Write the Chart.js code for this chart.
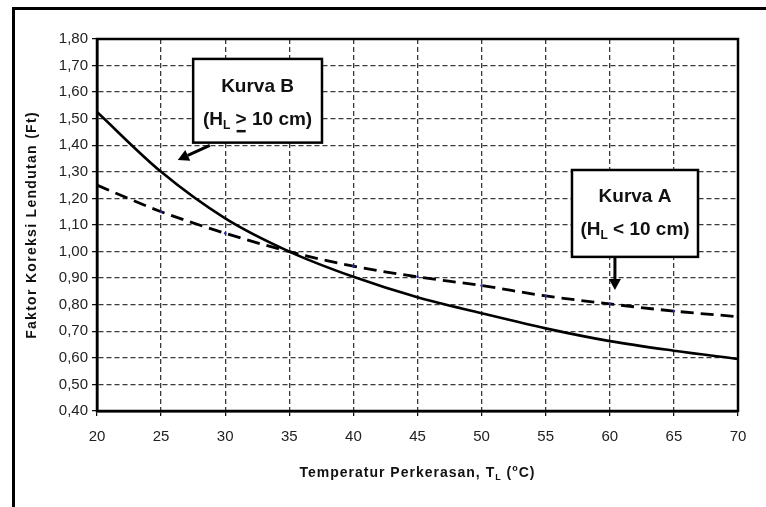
<!DOCTYPE html>
<html>
<head>
<meta charset="utf-8">
<script src="https://cdn.jsdelivr.net/npm/chart.js@4"></script>
<style>
  html, body { margin: 0; padding: 0; background: #fff; overflow: hidden; }
  #wrap { position: relative; width: 766px; height: 507px; }
  #frame { position: absolute; left: 12px; top: 7px; width: 800px; height: 560px; border: 3px solid #000; box-sizing: border-box; pointer-events: none; }
  canvas { position: absolute; left: 0; top: 0; }
</style>
</head>
<body>
<div id="wrap">
  <div id="frame"></div>
  <canvas id="chart" width="766" height="507"></canvas>
</div>
<script>
// temperature (deg C) and correction factor readings
const temps = [20, 25, 30, 35, 40, 45, 50, 55, 60, 65, 70];
const kurvaA = [1.25, 1.15, 1.069, 1.00, 0.945, 0.905, 0.872, 0.833, 0.803, 0.776, 0.755];
const kurvaB = [1.525, 1.30, 1.125, 1.00, 0.905, 0.828, 0.768, 0.711, 0.663, 0.627, 0.596];

const FONT = "'Liberation Sans', Arial, sans-serif";

// draw a line of text made of pieces (plain / sub / sup / underline), centred on cx
function richText(ctx, pieces, cx, cy, size) {
    const widths = pieces.map(p => {
        ctx.font = `bold ${p.sub || p.sup ? Math.round(size * 0.65) : size}px ${FONT}`;
        return ctx.measureText(p.t).width;
    });
    let x = cx - widths.reduce((a, b) => a + b, 0) / 2;
    pieces.forEach((p, i) => {
        const small = p.sub || p.sup;
        ctx.font = `bold ${small ? Math.round(size * 0.65) : size}px ${FONT}`;
        let y = cy;
        if (p.sub) y += size * 0.3;
        if (p.sup) y -= size * 0.3;
        ctx.fillText(p.t, x, y);
        if (p.underline) {
            ctx.fillRect(x + 1, cy + size * 0.52, widths[i] - 2, 2.5);
        }
        x += widths[i];
    });
}

function arrow(ctx, x1, y1, x2, y2) {
    const a = Math.atan2(y2 - y1, x2 - x1);
    const len = 11, half = 6;
    const bx = x2 - len * Math.cos(a), by = y2 - len * Math.sin(a);
    ctx.lineWidth = 3;
    ctx.beginPath();
    ctx.moveTo(x1, y1);
    ctx.lineTo(bx, by);
    ctx.stroke();
    ctx.beginPath();
    ctx.moveTo(x2, y2);
    ctx.lineTo(bx + half * Math.sin(a), by - half * Math.cos(a));
    ctx.lineTo(bx - half * Math.sin(a), by + half * Math.cos(a));
    ctx.closePath();
    ctx.fill();
}

const extras = {
    id: 'extras',
    afterDraw(chart) {
        const ctx = chart.ctx;
        const sx = chart.scales.x, sy = chart.scales.y;
        const px = v => sx.getPixelForValue(v);
        const py = v => sy.getPixelForValue(v);
        const area = chart.chartArea;

        ctx.save();
        // plot box
        ctx.strokeStyle = '#000';
        ctx.lineWidth = 2.5;
        ctx.strokeRect(area.left, area.top, area.right - area.left, area.bottom - area.top);

        ctx.fillStyle = '#111';
        ctx.strokeStyle = '#000';
        ctx.textBaseline = 'middle';
        ctx.textAlign = 'left';

        const boxes = [
            { x1: 27.5, x2: 37.55, y1: 1.725, y2: 1.41, t1: 1.62, t2: 1.495, title: 'Kurva B',
              line: [{ t: '(H' }, { t: 'L', sub: true }, { t: ' ' }, { t: '>', underline: true }, { t: ' 10 cm)' }] },
            { x1: 57.05, x2: 66.88, y1: 1.307, y2: 0.98, t1: 1.205, t2: 1.081, title: 'Kurva A',
              line: [{ t: '(H' }, { t: 'L', sub: true }, { t: ' < 10 cm)' }] }
        ];
        boxes.forEach(b => {
            const l = px(b.x1), r = px(b.x2), t = py(b.y1), btm = py(b.y2);
            ctx.fillStyle = '#fff';
            ctx.fillRect(l, t, r - l, btm - t);
            ctx.lineWidth = 2.5;
            ctx.strokeRect(l, t, r - l, btm - t);
            ctx.fillStyle = '#111';
            const cx = (l + r) / 2;
            richText(ctx, [{ t: b.title }], cx, py(b.t1), 19);
            richText(ctx, b.line, cx, py(b.t2), 19);
        });

        // arrows
        ctx.fillStyle = '#000';
        arrow(ctx, px(28.8), py(1.40), px(26.3), py(1.345));
        arrow(ctx, px(60.4), py(0.98), px(60.4), py(0.855));

        // axis titles
        ctx.fillStyle = '#111';
        ctx.textAlign = 'left';
        ctx.letterSpacing = '1px';
        richText(ctx, [{ t: 'Temperatur Perkerasan, T' }, { t: 'L', sub: true }, { t: ' (' }, { t: 'o', sup: true }, { t: 'C)' }],
            (area.left + area.right) / 2, 473, 14);

        ctx.translate(32, 225);
        ctx.rotate(-Math.PI / 2);
        ctx.letterSpacing = '1.3px';
        richText(ctx, [{ t: 'Faktor Koreksi Lendutan (Ft)' }], 0, 0, 14);
        ctx.restore();
    }
};

new Chart(document.getElementById('chart'), {
    type: 'line',
    data: {
        datasets: [
            {
                label: 'Kurva B',
                data: temps.map((t, i) => ({ x: t, y: kurvaB[i] })),
                borderColor: '#000',
                borderWidth: 2.6,
                pointRadius: 0,
                cubicInterpolationMode: 'monotone'
            },
            {
                label: 'Kurva A',
                data: temps.map((t, i) => ({ x: t, y: kurvaA[i] })),
                borderColor: '#000',
                borderWidth: 2.8,
                borderDash: [13, 7],
                pointRadius: 1.3,
                pointBorderWidth: 0,
                pointBackgroundColor: '#2a2aa8',
                cubicInterpolationMode: 'monotone'
            }
        ]
    },
    options: {
        responsive: false,
        animation: false,
        layout: { padding: { left: 37, right: 28, top: 39, bottom: 0 } },
        plugins: {
            legend: { display: false },
            tooltip: { enabled: false }
        },
        scales: {
            x: {
                type: 'linear',
                min: 20,
                max: 70,
                afterFit: s => { s.height = 96; },
                ticks: {
                    stepSize: 5,
                    padding: 12,
                    color: '#222',
                    font: { family: FONT, size: 15 }
                },
                grid: { color: '#3a3a3a', lineWidth: 1.3, tickLength: 5, tickColor: '#000', tickWidth: 1.2 },
                border: { color: '#000', width: 2.5, dash: [5, 3] }
            },
            y: {
                min: 0.4,
                max: 1.8,
                afterFit: s => { s.width = 60; },
                ticks: {
                    stepSize: 0.1,
                    padding: 4,
                    color: '#222',
                    font: { family: FONT, size: 15 },
                    callback: v => v.toFixed(2).replace('.', ',')
                },
                grid: { color: '#3a3a3a', lineWidth: 1.3, tickLength: 5, tickColor: '#000', tickWidth: 1.2 },
                border: { color: '#000', width: 2.5, dash: [5, 3] }
            }
        }
    },
    plugins: [extras]
});
</script>
</body>
</html>
